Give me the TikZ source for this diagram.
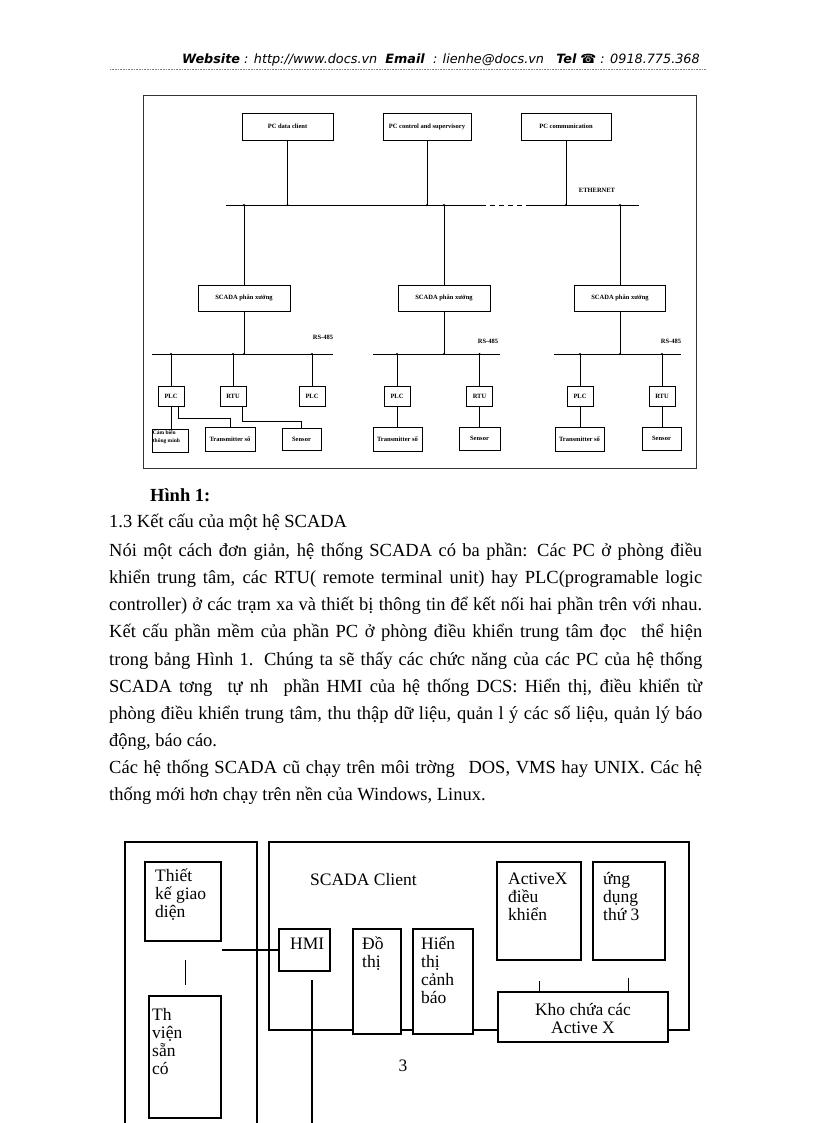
\documentclass[tikz,border=0pt]{standalone}
\usepackage{fontspec}
\setmainfont{Liberation Serif}
\newfontfamily\hdrfont{DejaVu Sans}
\newfontfamily\djfont{DejaVu Sans}
\newcommand{\jline}[1]{\makebox[593pt][s]{#1}}
\begin{document}
\begin{tikzpicture}[x=1pt,y=-1pt,
  bx/.style={draw, line width=0.6pt, inner sep=0pt, fill=white},
  lbl/.style={font=\fontsize{6.5}{7}\selectfont\bfseries, inner sep=0pt},
  ln/.style={line width=0.6pt},
  dot/.style={circle, fill=black, inner sep=0pt, minimum size=2.4pt},
  body/.style={font=\fontsize{18.5}{20}\selectfont, anchor=base west, inner sep=0pt},
  bbx/.style={draw, line width=1.1pt, inner sep=0pt, fill=white},
  btx/.style={font=\fontsize{17.5}{18}\selectfont, anchor=base west, inner sep=0pt},
  bln/.style={line width=1.1pt}]
\useasboundingbox (0,0) rectangle (816,1123);

% ---------- header ----------
\node[font=\fontsize{12.8}{13}\selectfont\hdrfont\itshape, inner sep=0pt] (hdr) at (441,60)
  {{\bfseries Website} : http://www.docs.vn\ \ {\bfseries Email}\ \ : lienhe@docs.vn\ \ \ {\bfseries Tel} {\djfont\bfseries\upshape ☎} : 0918.775.368};
\coordinate (hl) at (110,69);
\coordinate (hr) at (706,69);
\draw[gray, line width=0.6pt, densely dotted] (hl) -- (hr);

% ---------- top diagram ----------
\draw[line width=0.9pt, black!80] (143,95) rectangle (696,468);

\node[bx, minimum width=91pt, minimum height=27pt] (pc1) at (287.5,126.5) {\fontsize{6.5}{7}\selectfont\bfseries PC data client};
\node[bx, minimum width=88pt, minimum height=27pt] (pc2) at (427,126.5) {\fontsize{6.5}{7}\selectfont\bfseries PC control and supervisory};
\node[bx, minimum width=90pt, minimum height=27pt] (pc3) at (566,126.5) {\fontsize{6.5}{7}\selectfont\bfseries PC communication};

\coordinate (busL) at (226,205);
\coordinate (busD1) at (481,205);
\coordinate (busD2) at (531,205);
\coordinate (busR) at (639,205);
\draw[ln] (busL) -- (busD1);
\draw[ln, dash pattern=on 5pt off 4pt] (busD1) -- (busD2);
\draw[ln] (busD2) -- (busR);
\node[lbl] (eth) at (597,190) {ETHERNET};

\coordinate (b1) at (287.5,205);
\coordinate (b2) at (427,205);
\coordinate (b3) at (566,205);
\draw[ln] (pc1.south) -- (b1);
\draw[ln] (pc2.south) -- (b2);
\draw[ln] (pc3.south) -- (b3);

\node[bx, minimum width=92pt, minimum height=26pt] (s1) at (244,298) {\fontsize{6.5}{7}\selectfont\bfseries SCADA phân xưởng};
\node[bx, minimum width=92pt, minimum height=26pt] (s2) at (444,298) {\fontsize{6.5}{7}\selectfont\bfseries SCADA phân xưởng};
\node[bx, minimum width=91pt, minimum height=26pt] (s3) at (620,298) {\fontsize{6.5}{7}\selectfont\bfseries SCADA phân xưởng};
\coordinate (u1) at (244,205);
\coordinate (u2) at (444,205);
\coordinate (u3) at (620,205);
\draw[ln] (u1) -- (s1.north);
\draw[ln] (u2) -- (s2.north);
\draw[ln] (u3) -- (s3.north);
\foreach \p in {b1,b2,b3,u1,u2,u3} \node[dot] at (\p) {};

% lower buses
\coordinate (l1a) at (152,354); \coordinate (l1b) at (333,354);
\coordinate (l2a) at (373,354); \coordinate (l2b) at (500,354);
\coordinate (l3a) at (554,354); \coordinate (l3b) at (681,354);
\draw[ln] (l1a) -- (l1b);
\draw[ln] (l2a) -- (l2b);
\draw[ln] (l3a) -- (l3b);
\coordinate (d1) at (244,354);
\coordinate (d2) at (444,354);
\coordinate (d3) at (620,354);
\draw[ln] (s1.south) -- (d1);
\draw[ln] (s2.south) -- (d2);
\draw[ln] (s3.south) -- (d3);
\node[lbl] (rs1) at (323,337) {RS-485};
\node[lbl] (rs2) at (488,341) {RS-485};
\node[lbl] (rs3) at (671,341) {RS-485};

% PLC / RTU boxes
\node[bx, minimum width=26pt, minimum height=20pt] (p1) at (171,396) {\fontsize{6.5}{7}\selectfont\bfseries PLC};
\node[bx, minimum width=26pt, minimum height=20pt] (r1) at (233,396) {\fontsize{6.5}{7}\selectfont\bfseries RTU};
\node[bx, minimum width=26pt, minimum height=20pt] (p2) at (312,396) {\fontsize{6.5}{7}\selectfont\bfseries PLC};
\node[bx, minimum width=26pt, minimum height=20pt] (p3) at (397,396) {\fontsize{6.5}{7}\selectfont\bfseries PLC};
\node[bx, minimum width=26pt, minimum height=20pt] (r2) at (479.5,396) {\fontsize{6.5}{7}\selectfont\bfseries RTU};
\node[bx, minimum width=26pt, minimum height=20pt] (p4) at (580,396) {\fontsize{6.5}{7}\selectfont\bfseries PLC};
\node[bx, minimum width=26pt, minimum height=20pt] (r3) at (662,396) {\fontsize{6.5}{7}\selectfont\bfseries RTU};
\foreach \n in {p1,r1,p2,p3,r2,p4,r3} {
  \draw[ln] (\n.north |- l1a) -- (\n.north);
  \node[dot] at (\n.north |- l1a) {};
}
\node[dot] at (d1) {};
\node[dot] at (d2) {};
\node[dot] at (d3) {};

% bottom row
\node[bx, minimum width=36pt, minimum height=23pt] (cb) at (170,440.5) {};
\node[lbl, anchor=north west, align=left, font=\fontsize{5.5}{7.5}\selectfont\bfseries] (cbt) at ([xshift=1pt,yshift=-2pt]cb.north west) {Cảm biến\\thông minh};
\node[bx, minimum width=50pt, minimum height=24pt] (t1) at (230,439) {\fontsize{6.5}{7}\selectfont\bfseries Transmitter số};
\node[bx, minimum width=39pt, minimum height=22pt] (e1) at (301.5,439) {\fontsize{6.5}{7}\selectfont\bfseries Sensor};
\node[bx, minimum width=49pt, minimum height=24pt] (t2) at (397.5,439) {\fontsize{6.5}{7}\selectfont\bfseries Transmitter số};
\node[bx, minimum width=41pt, minimum height=23pt] (e2) at (479.5,438.5) {\fontsize{6.5}{7}\selectfont\bfseries Sensor};
\node[bx, minimum width=49pt, minimum height=24pt] (t3) at (579.5,439) {\fontsize{6.5}{7}\selectfont\bfseries Transmitter số};
\node[bx, minimum width=39pt, minimum height=23pt] (e3) at (661.5,438.5) {\fontsize{6.5}{7}\selectfont\bfseries Sensor};

\draw[ln] (p1.south) -- (p1.south |- cb.north);
\draw[ln] ([xshift=7pt]p1.south) -- ++(0,12) -| (t1.north);
\draw[ln] ([xshift=9pt]r1.south) -- ++(0,15) -| (e1.north);
\draw[ln] (p3.south) -- (p3.south |- t2.north);
\draw[ln] (r2.south) -- (r2.south |- e2.north);
\draw[ln] (p4.south) -- (p4.south |- t3.north);
\draw[ln] (r3.south) -- (r3.south |- e3.north);

% ---------- text ----------
\node[body, font=\fontsize{18.5}{20}\selectfont\bfseries] (h1) at (150,501) {Hình 1:};
\node[body] (x1) at (109,527) {1.3 Kết cấu của một hệ SCADA};
\node[body] (x2) at (109,556) {\jline{Nói một cách đơn giản, hệ thống SCADA có ba phần: Các PC ở phòng điều}};
\node[body] (x3) at (109,583) {\jline{khiển trung tâm, các RTU( remote terminal unit) hay PLC(programable logic}};
\node[body] (x4) at (109,610) {\jline{controller) ở các trạm xa và thiết bị thông tin để kết nối hai phần trên với nhau.}};
\node[body] (x5) at (109,637) {\jline{Kết cấu phần mềm của phần PC ở phòng điều khiển trung tâm đọc\hspace{8pt} thể hiện}};
\node[body] (x6) at (109,665) {\jline{trong bảng Hình 1. Chúng ta sẽ thấy các chức năng của các PC của hệ thống}};
\node[body] (x7) at (109,692) {\jline{SCADA tơng\hspace{8pt} tự nh\hspace{8pt} phần HMI của hệ thống DCS: Hiển thị, điều khiển từ}};
\node[body] (x8) at (109,719) {\jline{phòng điều khiển trung tâm, thu thập dữ liệu, quản l ý các số liệu, quản lý báo}};
\node[body] (x9) at (109,746) {động, báo cáo.};
\node[body] (x10) at (109,773) {\jline{Các hệ thống SCADA cũ chạy trên môi trờng\hspace{8pt} DOS, VMS hay UNIX. Các hệ}};
\node[body] (x11) at (109,800) {thống mới hơn chạy trên nền của Windows, Linux.};

% ---------- bottom diagram ----------
\draw[bln] (125,1123) -- (125,842) -- (257,842) -- (257,1123);
\draw[bln] (269,842) rectangle (689,1030);

\node[bbx, minimum width=76pt, minimum height=79pt] (tk) at (183,901.5) {};
\node[btx] (tk1) at (155,881) {Thiết};
\node[btx] (tk2) at (155,899) {kế giao};
\node[btx] (tk3) at (155,917) {diện};

\node[bbx, minimum width=72pt, minimum height=122pt] (tv) at (185,1057) {};
\node[btx] (tv1) at (152,1020) {Th};
\node[btx] (tv2) at (152,1038) {viện};
\node[btx] (tv3) at (152,1056) {sẵn};
\node[btx] (tv4) at (152,1074) {có};

\coordinate (vs1) at (185,960);
\coordinate (vs2) at (185,985);
\draw[line width=0.8pt] (vs1) -- (vs2);

\node[btx] (sc) at (310,885) {SCADA Client};

\node[bbx, minimum width=51pt, minimum height=42pt] (hmi) at (304.5,950) {};
\node[btx] (hmit) at (290,949) {HMI};
\draw[bln] (tk.east |- hmi.west) -- (hmi.west);
\coordinate (hv1) at (312,980);
\coordinate (hv2) at (312,1123);
\draw[bln] (hv1) -- (hv2);

\node[bbx, minimum width=48pt, minimum height=105pt] (dt) at (377,981.5) {};
\node[btx] (dt1) at (362,949) {Đồ};
\node[btx] (dt2) at (362,967) {thị};

\node[bbx, minimum width=60pt, minimum height=105pt] (ht) at (443,981.5) {};
\node[btx] (ht1) at (421,949) {Hiển};
\node[btx] (ht2) at (421,967) {thị};
\node[btx] (ht3) at (421,985) {cảnh};
\node[btx] (ht4) at (421,1003) {báo};

\node[bbx, minimum width=84pt, minimum height=98pt] (ax) at (539,911) {};
\node[btx] (ax1) at (508,884) {ActiveX};
\node[btx] (ax2) at (508,902) {điều};
\node[btx] (ax3) at (508,920) {khiển};

\node[bbx, minimum width=72pt, minimum height=98pt] (ud) at (629,911) {};
\node[btx] (ud1) at (603,884) {ứng};
\node[btx] (ud2) at (603,902) {dụng};
\node[btx] (ud3) at (603,920) {thứ 3};

\node[bbx, minimum width=170pt, minimum height=50pt] (kho) at (583,1017) {};
\node[btx, anchor=base] (kh1) at (583,1015) {Kho chứa các};
\node[btx, anchor=base] (kh2) at (583,1033) {Active X};
\coordinate (k1) at (539,981);
\coordinate (k2) at (628,978);
\draw[line width=0.8pt] (k1) -- (k1 |- kho.north);
\draw[line width=0.8pt] (k2) -- (k2 |- kho.north);

\node[btx, anchor=base] (pg) at (403,1071) {3};
\end{tikzpicture}
\end{document}
